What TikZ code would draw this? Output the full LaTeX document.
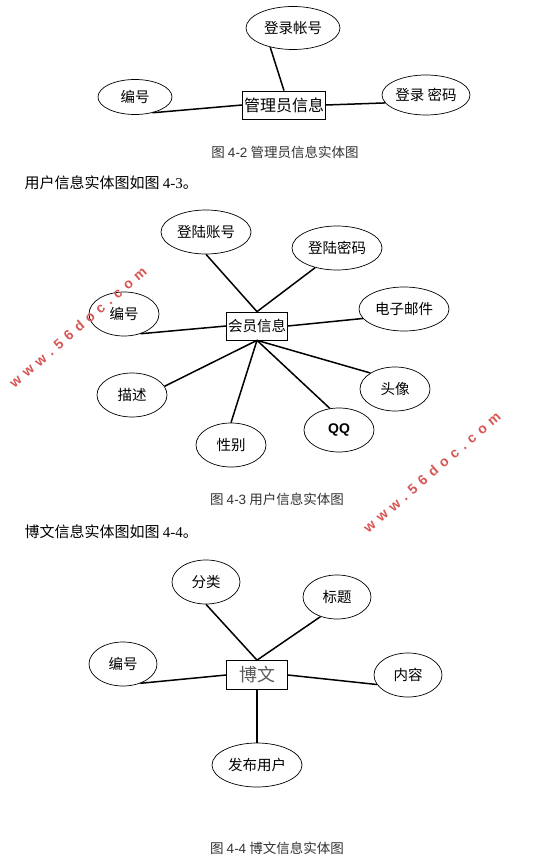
\documentclass[tikz,border=0pt]{standalone}
\usepackage{fontspec}
\setmainfont{Noto Sans CJK SC}
\newfontfamily\latinserif{Liberation Serif}
\newfontfamily\latinsans{Liberation Sans}
\newfontfamily\markfont[LetterSpace=40]{Liberation Sans}
\usetikzlibrary{shapes.geometric}
\definecolor{capgray}{RGB}{50,50,50}
\definecolor{markred}{RGB}{215,85,85}
\tikzset{
  attr/.style={ellipse, draw, line width=0.7pt, inner sep=0pt, minimum width=70pt, minimum height=44pt, font=\fontsize{14.5}{16}\selectfont},
  wideattr/.style={attr, minimum width=90pt},
  entity/.style={rectangle, draw, line width=0.7pt, inner sep=1pt, minimum height=28pt, font=\fontsize{14.5}{16}\selectfont},
  link/.style={line width=1.5pt},
  caption/.style={text=capgray, font=\fontsize{13.5}{15}\selectfont},
  bodytext/.style={anchor=west, font=\fontsize{15}{17}\selectfont},
  watermark/.style={text=markred, rotate=41, font=\markfont\bfseries\fontsize{14}{16}\selectfont}
}
\begin{document}
\begin{tikzpicture}[x=1pt,y=-1pt]
\useasboundingbox (0,0) rectangle (547,866);
% figure 4-2
\node[entity, minimum width=83pt, font=\fontsize{16}{18}\selectfont] (admin) at (284,105) {管理员信息};
\node[wideattr, minimum width=94pt, minimum height=43pt] (adminacc) at (293,28) {登录帐号};
\node[attr, minimum width=74pt, minimum height=35pt] (adminid) at (135,97) {编号};
\node[wideattr, minimum width=88pt, minimum height=40pt] (adminpwd) at (426,95) {登录 密码};
\draw[link] (adminacc.220) -- (admin.north);
\draw[link] (adminid.-42) -- (admin.west);
\draw[link] (admin.east) -- (adminpwd.191);
\node[caption] (cap42) at (285,152) {图 {\latinsans 4-2} 管理员信息实体图};
\node[bodytext] (text43) at (21,183) {用户信息实体图如图 {\latinserif 4-3}。};
% figure 4-3
\node[entity, minimum width=61pt] (member) at (257,326) {会员信息};
\node[wideattr] (memacc) at (206,232) {登陆账号};
\node[wideattr] (mempwd) at (337,248) {登陆密码};
\node[attr] (memid) at (124,314) {编号};
\node[wideattr] (mail) at (404,309) {电子邮件};
\node[attr] (desc) at (132,395) {描述};
\node[attr] (sex) at (231,445) {性别};
\node[attr, font=\latinsans\bfseries\fontsize{14}{16}\selectfont] (qq) at (339,430) {QQ};
\node[attr] (avatar) at (395,389) {头像};
\draw[link] (memacc.south) -- (member.north);
\draw[link] (mempwd.-138) -- (member.north);
\draw[link] (memid.-50) -- (member.west);
\draw[link] (member.east) -- (mail.193);
\draw[link] (member.south) -- (desc.15);
\draw[link] (member.south) -- (sex.north);
\draw[link] (member.south) -- (qq.113);
\draw[link] (member.south) -- (avatar.147);
\node[caption] (cap43) at (277,499) {图 {\latinsans 4-3} 用户信息实体图};
\node[bodytext] (text44) at (21,532) {博文信息实体图如图 {\latinserif 4-4}。};
% figure 4-4
\node[entity, minimum width=61pt, minimum height=29pt, text=black!65, font=\fontsize{18}{20}\selectfont] (blog) at (257,675) {博文};
\node[attr, minimum width=68pt] (cat) at (206,582) {分类};
\node[attr, minimum width=68pt] (title) at (337,597) {标题};
\node[attr, minimum width=68pt] (blogid) at (123,664) {编号};
\node[attr, minimum width=68pt] (content) at (408,675) {内容};
\node[wideattr] (author) at (257,765) {发布用户};
\draw[link] (cat.south) -- (blog.north);
\draw[link] (title.230) -- (blog.north);
\draw[link] (blogid.-48) -- (blog.west);
\draw[link] (blog.east) -- (content.197);
\draw[link] (blog.south) -- (author.north);
\node[caption] (cap44) at (277,848) {图 {\latinsans 4-4} 博文信息实体图};
% watermarks
\node[watermark] (mark1) at (78,327) {www.56doc.com};
\node[watermark] (mark2) at (432,472) {www.56doc.com};
\end{tikzpicture}
\end{document}
